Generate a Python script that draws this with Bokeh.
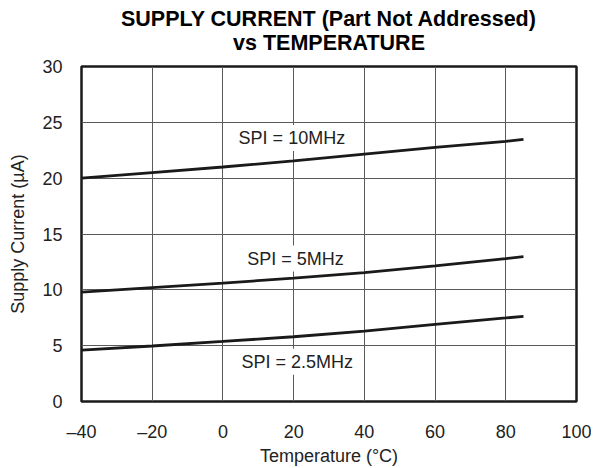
from bokeh.plotting import figure
from bokeh.models import Label, FixedTicker, Range1d, Title
from bokeh.embed import file_html
from bokeh.resources import INLINE

# ---- data ----
temps = [-40, -20, 0, 20, 40, 60, 80, 85]
i_10mhz = [20.0, 20.5, 21.0, 21.55, 22.15, 22.75, 23.3, 23.48]
i_5mhz = [9.8, 10.2, 10.6, 11.05, 11.55, 12.15, 12.8, 12.97]
i_2p5mhz = [4.6, 4.97, 5.38, 5.8, 6.3, 6.9, 7.48, 7.63]

series_labels = ["SPI = 10MHz", "SPI = 5MHz", "SPI = 2.5MHz"]
label_x = [19.5, 20.5, 21]
label_y = [23.6, 12.8, 3.56]

title_lines = ["SUPPLY CURRENT (Part Not Addressed)", "vs TEMPERATURE"]

x_ticks = [-40, -20, 0, 20, 40, 60, 80, 100]
x_tick_labels = ["\u201340", "\u201320", "0", "20", "40", "60", "80", "100"]
y_ticks = [0, 5, 10, 15, 20, 25, 30]

FONT = "Liberation Sans"
TXT = "#222222"

p = figure(
    frame_width=495, frame_height=335,
    min_border_left=81, min_border_top=66, min_border_right=15, min_border_bottom=60,
    x_range=Range1d(-40, 100), y_range=Range1d(0, 30),
    output_backend="svg", toolbar_location=None,
)
p.title = None

t2 = Title(text=title_lines[1], align="center", text_font=FONT,
           text_font_size="21.5px", text_font_style="bold", text_color="#000000",
           standoff=23, offset=0)
t1 = Title(text=title_lines[0], align="center", text_font=FONT,
           text_font_size="21.5px", text_font_style="bold", text_color="#000000",
           standoff=-27, offset=0)
p.add_layout(t2, "above")
p.add_layout(t1, "above")

p.outline_line_color = "#1a1a1a"
p.outline_line_width = 2.5
p.background_fill_color = "white"
p.border_fill_color = "white"

# axes
p.xaxis.ticker = FixedTicker(ticks=x_ticks)
p.xaxis.major_label_overrides = {t: lab for t, lab in zip(x_ticks, x_tick_labels)}
p.yaxis.ticker = FixedTicker(ticks=y_ticks)
for ax in (p.xaxis[0], p.yaxis[0]):
    ax.axis_line_color = None
    ax.major_tick_line_color = None
    ax.minor_tick_line_color = None
    ax.major_tick_out = 0
    ax.major_tick_in = 0
    ax.major_label_text_font = FONT
    ax.major_label_text_font_size = "18px"
    ax.major_label_text_color = TXT
    ax.axis_label_text_font = FONT
    ax.axis_label_text_font_size = "18px"
    ax.axis_label_text_font_style = "normal"
    ax.axis_label_text_color = TXT

p.xaxis.axis_label = "Temperature (\u00b0C)"
p.yaxis.axis_label = "Supply Current (\u00b5A)"
p.xaxis.major_label_standoff = 20
p.xaxis.axis_label_standoff = 1
p.yaxis.major_label_standoff = 19
p.yaxis.axis_label_standoff = 11

p.xgrid.ticker = FixedTicker(ticks=x_ticks)
p.ygrid.ticker = FixedTicker(ticks=y_ticks)
p.grid.grid_line_color = "#5a5a5a"
p.grid.grid_line_width = 1
p.grid.grid_line_alpha = 1.0

# curves
for ys in (i_10mhz, i_5mhz, i_2p5mhz):
    p.line(temps, ys, line_color="#1a1a1a", line_width=2.8)

for txt, lx, ly in zip(series_labels, label_x, label_y):
    p.add_layout(Label(
        x=lx, y=ly, text=txt, text_align="center", text_baseline="middle",
        text_font=FONT, text_font_size="18px", text_color=TXT,
        background_fill_color="white", background_fill_alpha=1.0,
        padding=3,
    ))

open("out.html", "w").write(file_html(p, INLINE))
